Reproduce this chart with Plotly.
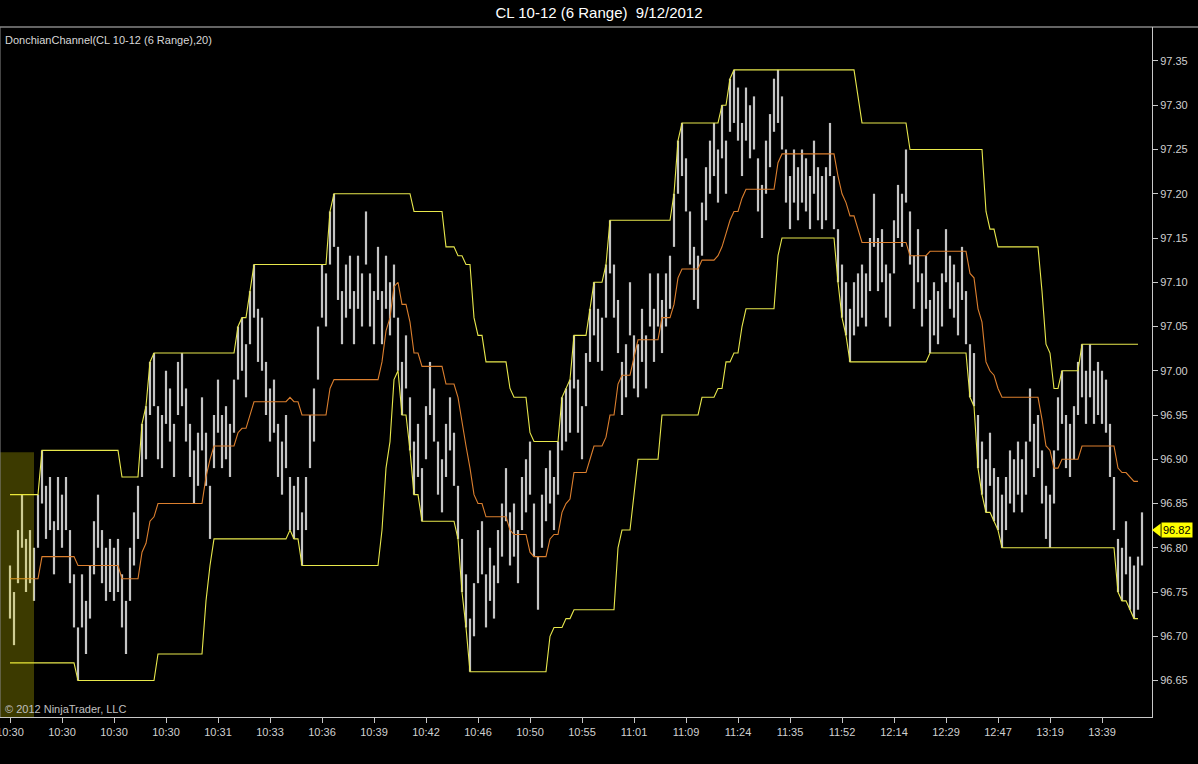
import plotly.graph_objects as go

# range bars (6 ticks), bar 0 = left edge
bar_high = [
    96.78, 96.75, 96.82, 96.86, 96.81, 96.82, 96.80, 96.86, 96.91, 96.87,
    96.88, 96.83, 96.88, 96.86, 96.88, 96.82, 96.77, 96.71, 96.77, 96.74,
    96.78, 96.83, 96.86, 96.82, 96.80, 96.81, 96.80, 96.81, 96.77, 96.74,
    96.80, 96.84, 96.87, 96.94, 96.96, 97.01, 97.02, 96.96, 96.95, 97.00,
    96.98, 96.94, 97.01, 97.02, 96.98, 96.94, 96.91, 96.93, 96.97, 96.93,
    96.87, 96.95, 96.99, 96.95, 96.96, 96.94, 96.99, 97.05, 97.06, 97.03,
    97.09, 97.12, 97.07, 97.06, 97.01, 96.98, 96.99, 96.94, 96.92, 96.95,
    96.88, 96.87, 96.88, 96.84, 96.88, 96.95, 96.98, 97.05, 97.12, 97.11,
    97.18, 97.20, 97.14, 97.09, 97.12, 97.13, 97.09, 97.13, 97.11, 97.18,
    97.11, 97.09, 97.14, 97.09, 97.13, 97.10, 97.12, 97.06, 97.01, 97.04,
    96.97, 96.92, 96.94, 96.89, 96.96, 97.01, 96.98, 96.92, 96.90, 96.94,
    96.97, 96.93, 96.87, 96.81, 96.77, 96.72, 96.76, 96.82, 96.83, 96.77,
    96.80, 96.78, 96.82, 96.85, 96.89, 96.84, 96.85, 96.82, 96.88, 96.90,
    96.92, 96.85, 96.79, 96.86, 96.89, 96.91, 96.88, 96.92, 96.97, 96.98,
    96.99, 97.04, 96.99, 96.96, 97.02, 97.07, 97.10, 97.07, 97.06, 97.12,
    97.17, 97.12, 97.08, 97.01, 97.03, 97.10, 97.04, 97.03, 97.07, 97.04,
    97.11, 97.07, 97.11, 97.08, 97.11, 97.13, 97.20, 97.26, 97.28, 97.24,
    97.18, 97.14, 97.13, 97.19, 97.23, 97.26, 97.28, 97.25, 97.30, 97.26,
    97.33, 97.34, 97.32, 97.28, 97.32, 97.30, 97.31, 97.24, 97.21, 97.26,
    97.29, 97.33, 97.34, 97.31, 97.25, 97.22, 97.25, 97.23, 97.25, 97.24,
    97.22, 97.26, 97.23, 97.22, 97.23, 97.28, 97.22, 97.16, 97.12, 97.10,
    97.07, 97.10, 97.11, 97.12, 97.11, 97.15, 97.20, 97.15, 97.16, 97.12,
    97.11, 97.17, 97.21, 97.20, 97.25, 97.18, 97.13, 97.16, 97.11, 97.13,
    97.08, 97.10, 97.09, 97.11, 97.16, 97.13, 97.12, 97.10, 97.14, 97.09,
    97.03, 97.02, 96.95, 96.92, 96.90, 96.93, 96.89, 96.88, 96.86, 96.88,
    96.91, 96.90, 96.92, 96.90, 96.92, 96.98, 96.94, 96.95, 96.91, 96.87,
    96.86, 96.91, 96.97, 97.00, 96.95, 96.94, 96.96, 97.01, 97.03, 97.00,
    97.03, 97.00, 97.01, 97.00, 96.99, 96.94, 96.88, 96.81, 96.80, 96.83,
    96.79, 96.78, 96.79, 96.84,
]
bar_low = [
    96.72, 96.69, 96.76, 96.80, 96.75, 96.76, 96.74, 96.80, 96.85, 96.81,
    96.82, 96.77, 96.82, 96.80, 96.82, 96.76, 96.71, 96.65, 96.71, 96.68,
    96.72, 96.77, 96.80, 96.76, 96.74, 96.75, 96.74, 96.75, 96.71, 96.68,
    96.74, 96.78, 96.81, 96.88, 96.90, 96.95, 96.96, 96.90, 96.89, 96.94,
    96.92, 96.88, 96.95, 96.96, 96.92, 96.88, 96.85, 96.87, 96.91, 96.87,
    96.81, 96.89, 96.93, 96.89, 96.90, 96.88, 96.93, 96.99, 97.00, 96.97,
    97.03, 97.06, 97.01, 97.00, 96.95, 96.92, 96.93, 96.88, 96.86, 96.89,
    96.82, 96.81, 96.82, 96.78, 96.82, 96.89, 96.92, 96.99, 97.06, 97.05,
    97.12, 97.14, 97.08, 97.03, 97.06, 97.07, 97.03, 97.07, 97.05, 97.12,
    97.05, 97.03, 97.08, 97.03, 97.07, 97.04, 97.06, 97.00, 96.95, 96.98,
    96.91, 96.86, 96.88, 96.83, 96.90, 96.95, 96.92, 96.86, 96.84, 96.88,
    96.91, 96.87, 96.81, 96.75, 96.71, 96.66, 96.70, 96.76, 96.77, 96.71,
    96.74, 96.72, 96.76, 96.79, 96.83, 96.78, 96.79, 96.76, 96.82, 96.84,
    96.86, 96.79, 96.73, 96.80, 96.83, 96.85, 96.82, 96.86, 96.91, 96.92,
    96.93, 96.98, 96.93, 96.90, 96.96, 97.01, 97.04, 97.01, 97.00, 97.06,
    97.11, 97.06, 97.02, 96.95, 96.97, 97.04, 96.98, 96.97, 97.01, 96.98,
    97.05, 97.01, 97.05, 97.02, 97.05, 97.07, 97.14, 97.20, 97.22, 97.18,
    97.12, 97.08, 97.07, 97.13, 97.17, 97.20, 97.22, 97.19, 97.24, 97.20,
    97.27, 97.28, 97.26, 97.22, 97.26, 97.24, 97.25, 97.18, 97.15, 97.20,
    97.23, 97.27, 97.28, 97.25, 97.19, 97.16, 97.19, 97.17, 97.19, 97.18,
    97.16, 97.20, 97.17, 97.16, 97.17, 97.22, 97.16, 97.10, 97.06, 97.04,
    97.01, 97.04, 97.05, 97.06, 97.05, 97.09, 97.14, 97.09, 97.10, 97.06,
    97.05, 97.11, 97.15, 97.14, 97.19, 97.12, 97.07, 97.10, 97.05, 97.07,
    97.02, 97.04, 97.03, 97.05, 97.10, 97.07, 97.06, 97.04, 97.08, 97.03,
    96.97, 96.96, 96.89, 96.86, 96.84, 96.87, 96.83, 96.82, 96.80, 96.82,
    96.85, 96.84, 96.86, 96.84, 96.86, 96.92, 96.88, 96.89, 96.85, 96.81,
    96.80, 96.85, 96.91, 96.94, 96.89, 96.88, 96.90, 96.95, 96.97, 96.94,
    96.97, 96.94, 96.95, 96.94, 96.93, 96.88, 96.82, 96.75, 96.74, 96.77,
    96.73, 96.72, 96.73, 96.78,
]

# DonchianChannel(20) as drawn (not plotted on the last, unfinished bar)
dc_upper = [
    96.86, 96.86, 96.86, 96.86, 96.86, 96.86, 96.86, 96.86, 96.91, 96.91,
    96.91, 96.91, 96.91, 96.91, 96.91, 96.91, 96.91, 96.91, 96.91, 96.91,
    96.91, 96.91, 96.91, 96.91, 96.91, 96.91, 96.91, 96.91, 96.88, 96.88,
    96.88, 96.88, 96.88, 96.94, 96.96, 97.01, 97.02, 97.02, 97.02, 97.02,
    97.02, 97.02, 97.02, 97.02, 97.02, 97.02, 97.02, 97.02, 97.02, 97.02,
    97.02, 97.02, 97.02, 97.02, 97.02, 97.02, 97.02, 97.05, 97.06, 97.06,
    97.09, 97.12, 97.12, 97.12, 97.12, 97.12, 97.12, 97.12, 97.12, 97.12,
    97.12, 97.12, 97.12, 97.12, 97.12, 97.12, 97.12, 97.12, 97.12, 97.12,
    97.18, 97.20, 97.20, 97.20, 97.20, 97.20, 97.20, 97.20, 97.20, 97.20,
    97.20, 97.20, 97.20, 97.20, 97.20, 97.20, 97.20, 97.20, 97.20, 97.20,
    97.20, 97.18, 97.18, 97.18, 97.18, 97.18, 97.18, 97.18, 97.18, 97.14,
    97.14, 97.14, 97.13, 97.13, 97.12, 97.12, 97.06, 97.04, 97.04, 97.01,
    97.01, 97.01, 97.01, 97.01, 97.01, 96.98, 96.97, 96.97, 96.97, 96.97,
    96.93, 96.92, 96.92, 96.92, 96.92, 96.92, 96.92, 96.92, 96.97, 96.98,
    96.99, 97.04, 97.04, 97.04, 97.04, 97.07, 97.10, 97.10, 97.10, 97.12,
    97.17, 97.17, 97.17, 97.17, 97.17, 97.17, 97.17, 97.17, 97.17, 97.17,
    97.17, 97.17, 97.17, 97.17, 97.17, 97.17, 97.20, 97.26, 97.28, 97.28,
    97.28, 97.28, 97.28, 97.28, 97.28, 97.28, 97.28, 97.28, 97.30, 97.30,
    97.33, 97.34, 97.34, 97.34, 97.34, 97.34, 97.34, 97.34, 97.34, 97.34,
    97.34, 97.34, 97.34, 97.34, 97.34, 97.34, 97.34, 97.34, 97.34, 97.34,
    97.34, 97.34, 97.34, 97.34, 97.34, 97.34, 97.34, 97.34, 97.34, 97.34,
    97.34, 97.34, 97.31, 97.28, 97.28, 97.28, 97.28, 97.28, 97.28, 97.28,
    97.28, 97.28, 97.28, 97.28, 97.28, 97.25, 97.25, 97.25, 97.25, 97.25,
    97.25, 97.25, 97.25, 97.25, 97.25, 97.25, 97.25, 97.25, 97.25, 97.25,
    97.25, 97.25, 97.25, 97.25, 97.18, 97.16, 97.16, 97.14, 97.14, 97.14,
    97.14, 97.14, 97.14, 97.14, 97.14, 97.14, 97.14, 97.14, 97.09, 97.03,
    97.02, 96.98, 96.98, 97.00, 97.00, 97.00, 97.00, 97.00, 97.03, 97.03,
    97.03, 97.03, 97.03, 97.03, 97.03, 97.03, 97.03, 97.03, 97.03, 97.03,
    97.03, 97.03, 97.03,
]
dc_lower = [
    96.67, 96.67, 96.67, 96.67, 96.67, 96.67, 96.67, 96.67, 96.67, 96.67,
    96.67, 96.67, 96.67, 96.67, 96.67, 96.67, 96.67, 96.65, 96.65, 96.65,
    96.65, 96.65, 96.65, 96.65, 96.65, 96.65, 96.65, 96.65, 96.65, 96.65,
    96.65, 96.65, 96.65, 96.65, 96.65, 96.65, 96.65, 96.68, 96.68, 96.68,
    96.68, 96.68, 96.68, 96.68, 96.68, 96.68, 96.68, 96.68, 96.68, 96.74,
    96.78, 96.81, 96.81, 96.81, 96.81, 96.81, 96.81, 96.81, 96.81, 96.81,
    96.81, 96.81, 96.81, 96.81, 96.81, 96.81, 96.81, 96.81, 96.81, 96.81,
    96.82, 96.81, 96.81, 96.78, 96.78, 96.78, 96.78, 96.78, 96.78, 96.78,
    96.78, 96.78, 96.78, 96.78, 96.78, 96.78, 96.78, 96.78, 96.78, 96.78,
    96.78, 96.78, 96.78, 96.82, 96.89, 96.92, 96.99, 97.00, 96.95, 96.95,
    96.91, 96.86, 96.86, 96.83, 96.83, 96.83, 96.83, 96.83, 96.83, 96.83,
    96.83, 96.83, 96.81, 96.75, 96.71, 96.66, 96.66, 96.66, 96.66, 96.66,
    96.66, 96.66, 96.66, 96.66, 96.66, 96.66, 96.66, 96.66, 96.66, 96.66,
    96.66, 96.66, 96.66, 96.66, 96.66, 96.70, 96.71, 96.71, 96.71, 96.72,
    96.72, 96.73, 96.73, 96.73, 96.73, 96.73, 96.73, 96.73, 96.73, 96.73,
    96.73, 96.73, 96.80, 96.82, 96.82, 96.82, 96.86, 96.90, 96.90, 96.90,
    96.90, 96.90, 96.90, 96.95, 96.95, 96.95, 96.95, 96.95, 96.95, 96.95,
    96.95, 96.95, 96.95, 96.97, 96.97, 96.97, 96.97, 96.98, 96.98, 97.01,
    97.01, 97.02, 97.02, 97.05, 97.07, 97.07, 97.07, 97.07, 97.07, 97.07,
    97.07, 97.07, 97.13, 97.15, 97.15, 97.15, 97.15, 97.15, 97.15, 97.15,
    97.15, 97.15, 97.15, 97.15, 97.15, 97.15, 97.15, 97.10, 97.06, 97.04,
    97.01, 97.01, 97.01, 97.01, 97.01, 97.01, 97.01, 97.01, 97.01, 97.01,
    97.01, 97.01, 97.01, 97.01, 97.01, 97.01, 97.01, 97.01, 97.01, 97.01,
    97.02, 97.02, 97.02, 97.02, 97.02, 97.02, 97.02, 97.02, 97.02, 97.02,
    96.97, 96.96, 96.89, 96.86, 96.84, 96.84, 96.83, 96.82, 96.80, 96.80,
    96.80, 96.80, 96.80, 96.80, 96.80, 96.80, 96.80, 96.80, 96.80, 96.80,
    96.80, 96.80, 96.80, 96.80, 96.80, 96.80, 96.80, 96.80, 96.80, 96.80,
    96.80, 96.80, 96.80, 96.80, 96.80, 96.80, 96.80, 96.75, 96.74, 96.74,
    96.73, 96.72, 96.72,
]
dc_mid = [
    96.765, 96.765, 96.765, 96.765, 96.765, 96.765, 96.765, 96.765, 96.79, 96.79,
    96.79, 96.79, 96.79, 96.79, 96.79, 96.79, 96.79, 96.78, 96.78, 96.78,
    96.78, 96.78, 96.78, 96.78, 96.78, 96.78, 96.78, 96.78, 96.765, 96.765,
    96.765, 96.765, 96.765, 96.795, 96.805, 96.83, 96.835, 96.85, 96.85, 96.85,
    96.85, 96.85, 96.85, 96.85, 96.85, 96.85, 96.85, 96.85, 96.85, 96.88,
    96.90, 96.915, 96.915, 96.915, 96.915, 96.915, 96.915, 96.93, 96.935, 96.935,
    96.95, 96.965, 96.965, 96.965, 96.965, 96.965, 96.965, 96.965, 96.965, 96.965,
    96.97, 96.965, 96.965, 96.95, 96.95, 96.95, 96.95, 96.95, 96.95, 96.95,
    96.98, 96.99, 96.99, 96.99, 96.99, 96.99, 96.99, 96.99, 96.99, 96.99,
    96.99, 96.99, 96.99, 97.01, 97.045, 97.06, 97.095, 97.10, 97.075, 97.075,
    97.055, 97.02, 97.02, 97.005, 97.005, 97.005, 97.005, 97.005, 97.005, 96.985,
    96.985, 96.985, 96.97, 96.94, 96.915, 96.89, 96.86, 96.85, 96.85, 96.835,
    96.835, 96.835, 96.835, 96.835, 96.835, 96.82, 96.815, 96.815, 96.815, 96.815,
    96.795, 96.79, 96.79, 96.79, 96.79, 96.81, 96.815, 96.815, 96.84, 96.85,
    96.855, 96.885, 96.885, 96.885, 96.885, 96.90, 96.915, 96.915, 96.915, 96.925,
    96.95, 96.95, 96.985, 96.995, 96.995, 96.995, 97.015, 97.035, 97.035, 97.035,
    97.035, 97.035, 97.035, 97.06, 97.06, 97.06, 97.075, 97.105, 97.115, 97.115,
    97.115, 97.115, 97.115, 97.125, 97.125, 97.125, 97.125, 97.13, 97.14, 97.155,
    97.17, 97.18, 97.18, 97.195, 97.205, 97.205, 97.205, 97.205, 97.205, 97.205,
    97.205, 97.205, 97.235, 97.245, 97.245, 97.245, 97.245, 97.245, 97.245, 97.245,
    97.245, 97.245, 97.245, 97.245, 97.245, 97.245, 97.245, 97.22, 97.20, 97.19,
    97.175, 97.175, 97.16, 97.145, 97.145, 97.145, 97.145, 97.145, 97.145, 97.145,
    97.145, 97.145, 97.145, 97.145, 97.145, 97.13, 97.13, 97.13, 97.13, 97.13,
    97.135, 97.135, 97.135, 97.135, 97.135, 97.135, 97.135, 97.135, 97.135, 97.135,
    97.11, 97.105, 97.07, 97.055, 97.01, 97.00, 96.995, 96.98, 96.97, 96.97,
    96.97, 96.97, 96.97, 96.97, 96.97, 96.97, 96.97, 96.97, 96.945, 96.915,
    96.91, 96.89, 96.89, 96.90, 96.90, 96.90, 96.90, 96.90, 96.915, 96.915,
    96.915, 96.915, 96.915, 96.915, 96.915, 96.915, 96.915, 96.89, 96.885, 96.885,
    96.88, 96.875, 96.875,
]

time_labels = ["10:30", "10:30", "10:30", "10:30", "10:31", "10:33", "10:36", "10:39",
               "10:42", "10:46", "10:50", "10:55", "11:01", "11:09", "11:24", "11:35",
               "11:52", "12:14", "12:29", "12:47", "13:19", "13:39"]
label_bars = [0, 13, 26, 39, 52, 65, 78, 91, 104, 117, 130, 143, 156, 169, 182,
              195, 208, 221, 234, 247, 260, 273]
price_ticks = [96.65, 96.70, 96.75, 96.80, 96.85, 96.90, 96.95, 97.00,
               97.05, 97.10, 97.15, 97.20, 97.25, 97.30, 97.35]
last_price = 96.82

assert len(bar_high) == len(bar_low) == 284
assert len(dc_upper) == len(dc_lower) == len(dc_mid) == 283

FONT = "Liberation Sans, Arial, sans-serif"

# each range bar is a vertical high-low segment
bx, by = [], []
for i, (h, l) in enumerate(zip(bar_high, bar_low)):
    bx += [i, i, None]
    by += [l, h, None]

fig = go.Figure()
fig.add_trace(go.Scatter(x=bx, y=by, mode="lines",
                         line=dict(color="#c4c4c4", width=2.2), hoverinfo="skip"))
dc_x = list(range(len(dc_upper)))
fig.add_trace(go.Scatter(x=dc_x, y=dc_upper, mode="lines", line=dict(color="#e8e84c", width=1.1)))
fig.add_trace(go.Scatter(x=dc_x, y=dc_lower, mode="lines", line=dict(color="#e8e84c", width=1.1)))
fig.add_trace(go.Scatter(x=dc_x, y=dc_mid, mode="lines", line=dict(color="#dc7f2e", width=1.1)))

fig.update_layout(
    width=1198, height=764,
    paper_bgcolor="black", plot_bgcolor="black",
    margin=dict(l=0, r=46, t=27, b=47),
    showlegend=False,
    font=dict(family=FONT, color="#d0d0d0"),
    title=dict(text="CL 10-12 (6 Range)&nbsp; 9/12/2012", x=0.5, xref="container",
               y=1 - 13 / 764, yref="container", yanchor="middle", xanchor="center",
               font=dict(family=FONT, size=15, color="white")),
    xaxis=dict(range=[-2.5, 285.5], tickvals=label_bars, ticktext=time_labels,
               ticks="outside", ticklen=5, tickcolor="#c8c8c8",
               ticklabeloverflow="allow", automargin=False,
               showline=True, linecolor="#c8c8c8", linewidth=1,
               showgrid=False, zeroline=False,
               tickfont=dict(family=FONT, size=11, color="#d0d0d0")),
    yaxis=dict(side="right", range=[96.6088, 97.3884], tickvals=price_ticks,
               tickformat=".2f", ticks="outside", ticklen=5, tickcolor="#c8c8c8",
               automargin=False,
               showline=True, linecolor="#c8c8c8", linewidth=1,
               showgrid=False, zeroline=False,
               tickfont=dict(family=FONT, size=11, color="#d0d0d0")),
)

# selection highlight on the left (drawn over the bars)
fig.add_shape(type="rect", xref="x", yref="y", x0=-2.5, x1=6, y0=96.6088, y1=96.908,
              fillcolor="rgba(240,232,0,0.25)", line=dict(width=0), layer="above")
# frame lines
fig.add_shape(type="line", xref="paper", yref="paper", x0=0, x1=1198 / 1152, y0=1, y1=1,
              line=dict(color="#c8c8c8", width=1))
fig.add_shape(type="line", xref="paper", yref="paper", x0=0, x1=0, y0=0, y1=1,
              line=dict(color="#888888", width=1))

# last price tag on the price axis
fig.add_shape(type="path", xref="paper", yref="y",
              path="M 1.0,%.4f L 1.0075,%.4f L 1.0075,%.4f Z" % (last_price, last_price + 0.0075, last_price - 0.0075),
              fillcolor="#ffff00", line=dict(width=0))
fig.add_annotation(xref="paper", yref="y", x=1.0075, y=last_price, text="%.2f" % last_price,
                   showarrow=False, xanchor="left", yanchor="middle", bgcolor="#ffff00",
                   borderpad=1, font=dict(family=FONT, size=11, color="black"))

fig.add_annotation(xref="paper", yref="paper", x=0, y=1, xshift=3, yshift=-5,
                   text="DonchianChannel(CL 10-12 (6 Range),20)", showarrow=False,
                   xanchor="left", yanchor="top",
                   font=dict(family=FONT, size=11, color="#d8d8d8"))
fig.add_annotation(xref="paper", yref="paper", x=0, y=0, xshift=3, yshift=0,
                   text="© 2012 NinjaTrader, LLC", showarrow=False,
                   xanchor="left", yanchor="bottom",
                   font=dict(family=FONT, size=11, color="#c0c0c0"))

# page body margin off so the 1198x764 figure fills the window
fig.write_html("out.html", config={"displayModeBar": False},
               post_script="document.body.style.margin='0px';"
               "document.body.style.overflow='hidden';")
